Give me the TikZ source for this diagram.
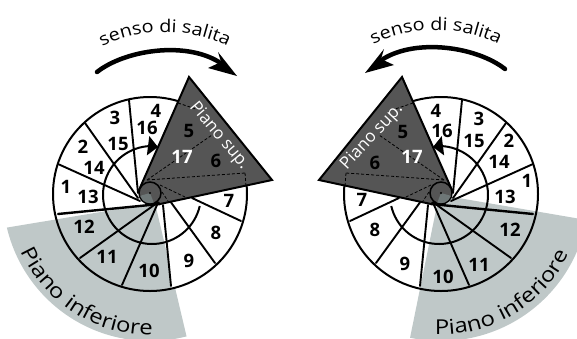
\documentclass[tikz,border=0pt]{standalone}
\usepackage{fontspec}
\setmainfont{Open Sans}
\newfontfamily\widefont[FakeStretch=1.13]{Open Sans}
\newfontfamily\widerfont[FakeStretch=1.17]{Open Sans}
\usetikzlibrary{arrows.meta,decorations.text}
\definecolor{lowgray}{HTML}{BFC8C8}
\definecolor{upgray}{HTML}{555555}
\definecolor{wedgegray}{HTML}{6E7777}
\newcommand{\fsenso}{\widefont\fontsize{17.5}{20}\selectfont}
\newcommand{\fpiano}{\widerfont\fontsize{20.5}{23}\selectfont}
\tikzset{
  num/.style={font=\fontsize{18.5}{20}\selectfont\bfseries,inner sep=0pt,text=black},
  numw/.style={num,text=white},
  seam/.style={line width=1.9pt,line cap=round},
  hidden/.style={line width=.8pt,dash pattern=on 3pt off 2pt},
  arclabel/.style={decoration={text along path,text align=center,
    text={#1}},decorate}
}
\newcommand{\halffig}{%
  \draw[line width=2pt] (150,194) circle[radius=97];
  \draw[seam,line width=2.4pt] (160,204) -- (58,214);
  \draw[seam] (140,201) -- (58,164);
  \draw[seam] (138,198) -- (85,123);
  \draw[seam] (138,193) -- (129,100);
  \draw[seam] (192,198) -- (241,221);
  \draw[seam] (170,201) -- (215,263);
  \draw[seam] (163,205) -- (171,286);
  \draw[seam] (157,205) -- (122,285);
  \draw[seam] (157,203) -- (80,258);
  \draw[line width=2pt,-{Triangle[length=10pt,width=19pt]}]
    plot[domain=13:268,samples=60] ({152+49*cos(\x)},{195+49*sin(\x)})
    -- (158,147);
  \draw[fill=upgray,line width=2pt,line join=miter] (189,77) -- (272,180) -- (160,204) -- (139,190) -- cycle;
  \draw[hidden] (147,180) -- (212,135);
  \draw[hidden] (147,180) -- (245,173);
  \draw[hidden] (245,173) -- (246,186);
  \draw[hidden] (178,103) -- (196,109);
  \draw[hidden] (160,185) -- (185,197);
  \draw[hidden] (162,192) -- (168,201);
  \draw[fill=upgray,line width=1.5pt] (150,193) circle[radius=11];
  \begin{scope}
    \clip (150,193) circle[radius=10.2];
    \fill[wedgegray] (150,193) -- (136,197) -- (140,210) -- (155,206) -- cycle;
  \end{scope}
  \fill (150,193) circle[radius=1.2];
}
\newcommand{\bigarrow}{%
  \draw[line width=4.5pt,line cap=round] (97,72) .. controls (125,50) and (185,41) .. (219,62);
  \fill (237,76) -- (218,52) -- (221,62) -- (208,68) -- cycle;
}
\begin{document}
\begin{tikzpicture}[x=1pt,y=-1pt]
\useasboundingbox (0,0) rectangle (577,338);
\clip (0,0) rectangle (577,338);
% lower floor sectors
\fill[lowgray] (155,203) -- plot[domain=75.6:166.8,samples=50] ({150+147*cos(\x)},{194+147*sin(\x)}) -- cycle;
\begin{scope}
  \clip (150,194) circle[radius=97];
  \fill[white] (163,205) -- (173,310) -- (300,300) -- (300,205) -- cycle;
\end{scope}
\fill[lowgray] (437,205) -- (410,338) -- plot[domain=102:10.5,samples=50] ({441+148*cos(\x)},{193+148*sin(\x)}) -- (441,195) -- cycle;
\begin{scope}
  \clip (441,194) circle[radius=97];
  \fill[white] (428,205) -- (418,310) -- (291,300) -- (291,205) -- cycle;
\end{scope}
% the two spirals
\begin{scope}
  \halffig
\end{scope}
\begin{scope}[xshift=591pt,xscale=-1]
  \halffig
\end{scope}
% rotation arrows
\begin{scope}
  \bigarrow
\end{scope}
\begin{scope}[xshift=602pt,yshift=3pt,xscale=-1]
  \bigarrow
\end{scope}
% curved labels
\path[arclabel={|\fsenso|senso di salita}] plot[domain=-125:-55,samples=50] ({165+144*cos(\x)},{176+144*sin(\x)});
\path[arclabel={|\fsenso|senso di salita}] plot[domain=-125:-55,samples=50] ({436+144*cos(\x)},{174+144*sin(\x)});
\path[arclabel={|\fpiano|Piano inferiore}] plot[domain=170:75,samples=60] ({150+141*cos(\x)},{194+141*sin(\x)});
\path[arclabel={|\fpiano|Piano inferiore}] plot[domain=107:11,samples=60] ({441+141.5*cos(\x)},{193+141.5*sin(\x)});
% left numbers
\node[num] (l1) at (66,187) {1};
\node[num] (l2) at (83,147) {2};
\node[num] (l3) at (115,118) {3};
\node[num] (l4) at (156,111) {4};
\node[num] (l5) at (189,131) {5};
\node[num] (l6) at (216,161) {6};
\node[num] (l7) at (229,201) {7};
\node[num] (l8) at (216,233) {8};
\node[num] (l9) at (189,261) {9};
\node[num] (l10) at (149,271) {10};
\node[num] (l11) at (107,257) {11};
\node[num] (l12) at (84,227) {12};
\node[num] (l13) at (88,197) {13};
\node[num] (l14) at (94,168) {14};
\node[num] (l15) at (118,144) {15};
\node[num] (l16) at (147,128) {16};
\node[numw] (l17) at (182,157) {17};
% right numbers
\node[num] (r1) at (527,181) {1};
\node[num] (r2) at (509,141) {2};
\node[num] (r3) at (479,119) {3};
\node[num] (r4) at (436,111) {4};
\node[num] (r5) at (403,132) {5};
\node[num] (r6) at (375,163) {6};
\node[num] (r7) at (362,200) {7};
\node[num] (r8) at (375,230) {8};
\node[num] (r9) at (405,264) {9};
\node[num] (r10) at (443,277) {10};
\node[num] (r11) at (479,265) {11};
\node[num] (r12) at (510,230) {12};
\node[num] (r13) at (505,197) {13};
\node[num] (r14) at (499,162) {14};
\node[num] (r15) at (474,141) {15};
\node[num] (r16) at (442,131) {16};
\node[numw] (r17) at (412,157) {17};
% upper floor labels
\node[text=white,rotate=-50,inner sep=0pt,font=\fontsize{17}{19}\selectfont] (lsup) at (219,136) {Piano sup.};
\node[text=white,rotate=47,inner sep=0pt,font=\fontsize{17}{19}\selectfont] (rsup) at (372,137) {Piano sup.};
\end{tikzpicture}
\end{document}
